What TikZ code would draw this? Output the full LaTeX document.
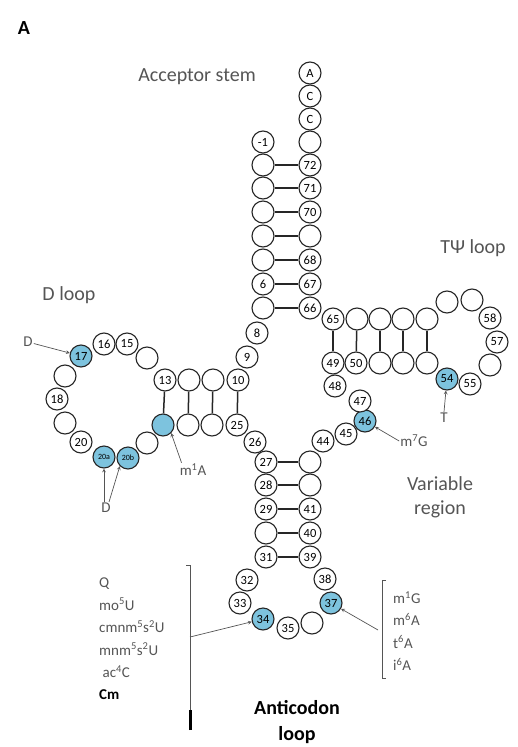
\documentclass[tikz,border=0pt]{standalone}
\usepackage{fontspec}
\setmainfont{Carlito}
\usepackage{tikz}

\definecolor{modblue}{RGB}{125,195,222}
\definecolor{labelgray}{RGB}{85,85,85}

\begin{document}
\begin{tikzpicture}[x=1pt, y=-1pt]

\useasboundingbox (0,0) rectangle (518,747);

% Styles for the nucleotides, the base pairs and the labels
\tikzstyle{nt} = [circle, draw=black!85, line width=1.1pt, fill=white, minimum size=22pt, inner sep=0pt, font=\fontsize{12.5}{12.5}\selectfont]
\tikzstyle{mod} = [nt, fill=modblue]
\tikzstyle{pair} = [line width=1.5pt, black!85]
\tikzstyle{region} = [font=\fontsize{20}{24}\selectfont, text=labelgray]
\tikzstyle{modlabel} = [font=\fontsize{15}{22.4}\selectfont, text=labelgray, inner sep=1pt]
\tikzstyle{pointer} = [->, >=stealth, line width=0.7pt, labelgray]
\tikzstyle{brace} = [line width=0.8pt, labelgray]

% Acceptor stem
\node[nt] (n76) at (310,73) {A};
\node[nt] (n75) at (310,96) {C};
\node[nt] (n74) at (310,119) {C};
\node[nt] (n73) at (310,142) {};
\node[nt] (n72) at (310,165) {72};  \node[nt] (n0) at (263,142) {-1};
\node[nt] (n71) at (310,188) {71};  \node[nt] (n1) at (263,165) {};
\node[nt] (n70) at (310,212) {70};  \node[nt] (n2) at (263,188) {};
\node[nt] (n69) at (310,236) {};    \node[nt] (n3) at (263,212) {};
\node[nt] (n68) at (310,260) {68};  \node[nt] (n4) at (263,236) {};
\node[nt] (n67) at (310,284) {67};  \node[nt] (n5) at (263,260) {};
\node[nt] (n66) at (310,308) {66};  \node[nt] (n6) at (263,284) {6};
                                    \node[nt] (n7) at (263,308) {};
\node[nt] (n8) at (257,333) {8};
\node[nt] (n9) at (247,357) {9};

% D arm
\node[nt] (n10) at (238,380) {10};  \node[nt] (n25) at (237,425) {25};
\node[nt] (n11) at (213,380) {};    \node[nt] (n24) at (212,425) {};
\node[nt] (n12) at (189,380) {};    \node[nt] (n23) at (188,425) {};
\node[nt] (n13) at (165,380) {13};  \node[mod] (n22) at (163,425) {};
\node[nt] (n14) at (147,358) {};
\node[nt] (n15) at (127,344) {15};
\node[nt] (n16) at (104,344) {16};
\node[mod] (n17) at (81,356) {17};
\node[nt] (n17a) at (65,376) {};
\node[nt] (n18) at (57,399) {18};
\node[nt] (n19) at (65,423) {};
\node[nt] (n20) at (81,442) {20};
\node[mod, font=\fontsize{8}{8}\selectfont] (n20a) at (104,457) {20a};
\node[mod, font=\fontsize{8}{8}\selectfont] (n20b) at (128,458) {20b};
\node[nt] (n21) at (147,443) {};

% Anticodon arm
\node[nt] (n26) at (255,442) {26};
\node[nt] (n27) at (266,462) {27};  \node[nt] (n43) at (310,462) {};
\node[nt] (n28) at (266,485) {28};  \node[nt] (n42) at (310,485) {};
\node[nt] (n29) at (266,509) {29};  \node[nt] (n41) at (310,509) {41};
\node[nt] (n30) at (266,533) {};    \node[nt] (n40) at (310,533) {40};
\node[nt] (n31) at (266,557) {31};  \node[nt] (n39) at (310,557) {39};
\node[nt] (n32) at (247,580) {32};
\node[nt] (n33) at (240,603) {33};
\node[mod] (n34) at (263,619) {34};
\node[nt] (n35) at (288,628) {35};
\node[nt] (n36) at (312,623) {};
\node[mod] (n37) at (331,603) {37};
\node[nt] (n38) at (325,579) {38};

% Variable region
\node[nt] (n44) at (323,441) {44};
\node[nt] (n45) at (346,434) {45};
\node[mod] (n46) at (365,421) {46};
\node[nt] (n47) at (360,401) {47};
\node[nt] (n48) at (335,386) {48};

% T arm
\node[nt] (n65) at (333,319) {65};  \node[nt] (n49) at (333,363) {49};
\node[nt] (n64) at (357,319) {};    \node[nt] (n50) at (356,363) {50};
\node[nt] (n63) at (380,319) {};    \node[nt] (n51) at (380,363) {};
\node[nt] (n62) at (403,319) {};    \node[nt] (n52) at (403,363) {};
\node[nt] (n61) at (427,319) {};    \node[nt] (n53) at (427,363) {};
\node[mod] (n54) at (447,379) {54};
\node[nt] (n55) at (470,384) {55};
\node[nt] (n56) at (490,365) {};
\node[nt] (n57) at (497,342) {57};
\node[nt] (n58) at (490,318) {58};
\node[nt] (n59) at (472,300) {};
\node[nt] (n60) at (447,302) {};

% Base pairs
\draw[pair] (n1) -- (n72);  \draw[pair] (n2) -- (n71);  \draw[pair] (n3) -- (n70);
\draw[pair] (n4) -- (n69);  \draw[pair] (n5) -- (n68);  \draw[pair] (n6) -- (n67);
\draw[pair] (n7) -- (n66);
\draw[pair] (n10) -- (n25); \draw[pair] (n11) -- (n24); \draw[pair] (n12) -- (n23);
\draw[pair] (n13) -- (n22);
\draw[pair] (n27) -- (n43); \draw[pair] (n28) -- (n42); \draw[pair] (n29) -- (n41);
\draw[pair] (n30) -- (n40); \draw[pair] (n31) -- (n39);
\draw[pair] (n49) -- (n65); \draw[pair] (n50) -- (n64); \draw[pair] (n51) -- (n63);
\draw[pair] (n52) -- (n62); \draw[pair] (n53) -- (n61);

% Region names
\node[font=\bfseries\fontsize{20}{20}\selectfont] (panel) at (24,28) {A};
\node[region] (accstem) at (197,77) {Acceptor stem};
\node[region] (tloop) at (473,248) {TΨ loop};
\node[region] (dloop) at (69,295) {D loop};
\node[region, align=center] (varreg) at (440,497) {Variable\\region};
\node[font=\bfseries\fontsize{20}{26}\selectfont, align=center] (acloop) at (297,722) {Anticodon\\loop};

% Modifications
\node[modlabel] (dtop) at (28,342) {D};
\draw[pointer] (dtop) -- (n17);
\node[modlabel] (dbot) at (106,508) {D};
\draw[pointer] ([xshift=-2pt]dbot.north) -- (n20a.south);
\draw[pointer] ([xshift=3pt]dbot.north) -- (n20b.south west);
\node[modlabel] (m1a) at (193,470) {m\textsuperscript{1}A};
\draw[pointer] ([xshift=3pt]m1a.north west) -- (n22.south east);
\node[modlabel] (m7g) at (414,441) {m\textsuperscript{7}G};
\draw[pointer] (m7g.west) -- (n46);
\node[modlabel] (tmod) at (444,418) {T};
\draw[pointer] (tmod.north) -- (n54);

\node[modlabel, align=left, anchor=west] (mods34) at (98,639) {Q\\mo\textsuperscript{5}U\\cmnm\textsuperscript{5}s\textsuperscript{2}U\\mnm\textsuperscript{5}s\textsuperscript{2}U\\\ ac\textsuperscript{4}C\\\textbf{\textcolor{black}{Cm}}};
\coordinate (ltop) at (190,565);
\coordinate (lmid) at (190,637);
\coordinate (lbot) at (190,710);
\draw[brace] ([xshift=-4pt]ltop) -- (ltop) -- (lbot);
\draw[line width=3pt, black] ([yshift=-20pt]lbot) -- (lbot);
\draw[pointer] (lmid) -- (n34);

\node[modlabel, align=left, anchor=west] (mods37) at (392,631) {m\textsuperscript{1}G\\m\textsuperscript{6}A\\t\textsuperscript{6}A\\i\textsuperscript{6}A};
\coordinate (rtop) at (382,580);
\coordinate (rmid) at (378,630);
\coordinate (rbot) at (382,678);
\draw[brace] ([xshift=4pt]rtop) -- (rtop) -- (rbot) -- ([xshift=4pt]rbot);
\draw[pointer] (rmid) -- (n37);

\end{tikzpicture}
\end{document}
